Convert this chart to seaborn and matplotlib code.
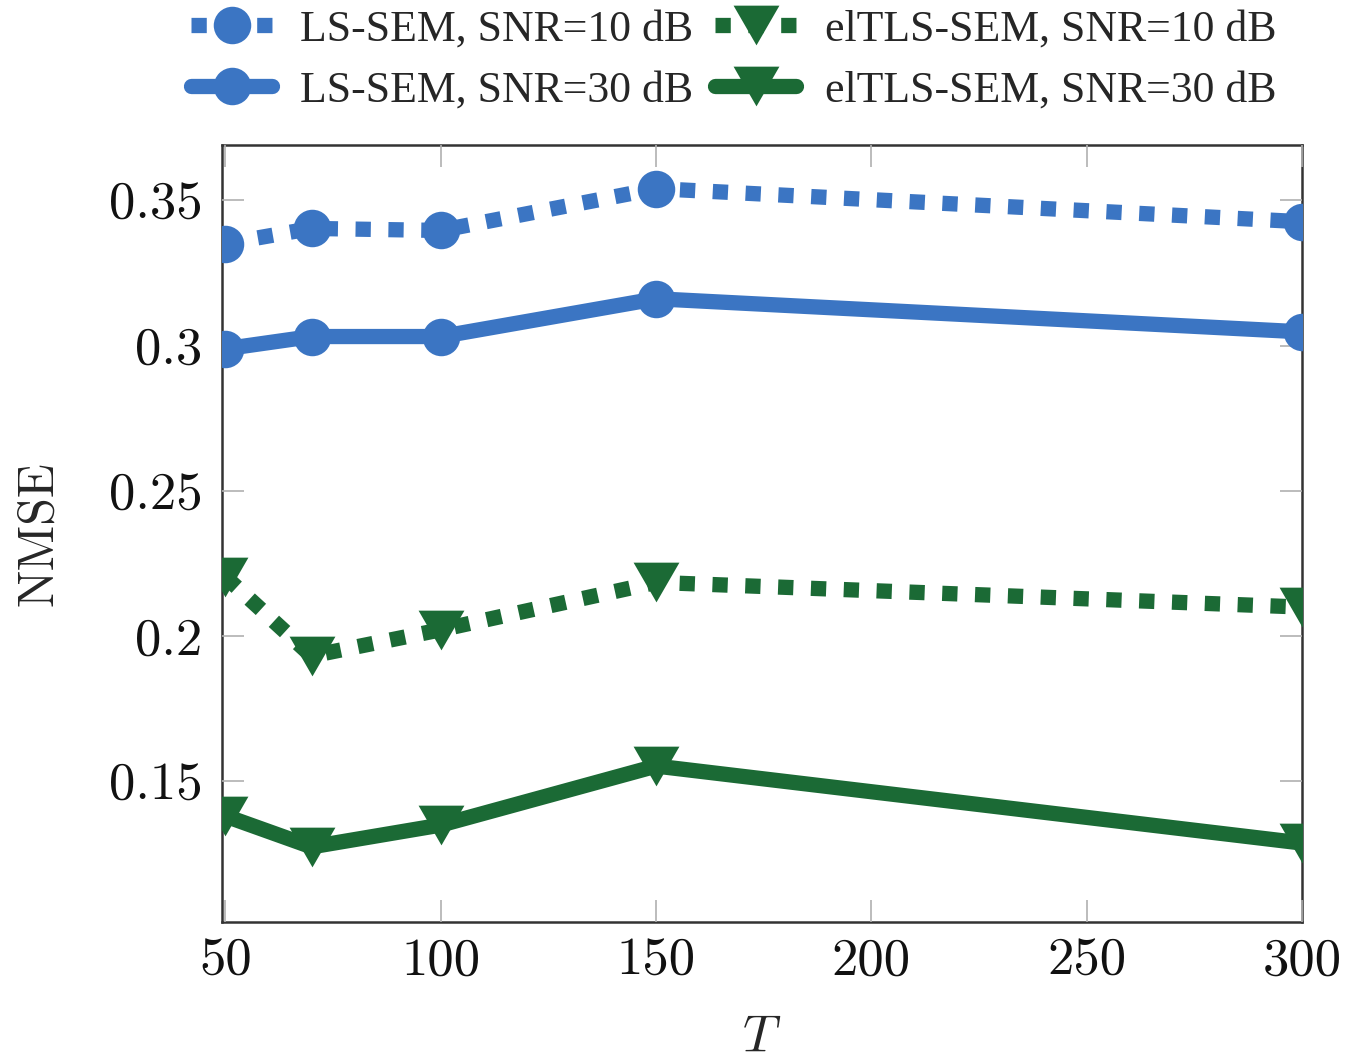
import matplotlib
matplotlib.use("Agg")
import matplotlib.pyplot as plt
import seaborn as sns
import numpy as np

T = [50, 70, 100, 150, 300]
ls_sem_10 = [0.3351, 0.3403, 0.3396, 0.3540, 0.3426]
ls_sem_30 = [0.2989, 0.3031, 0.3031, 0.3161, 0.3047]
eltls_10 = [0.2204, 0.1932, 0.2022, 0.2185, 0.2100]
eltls_30 = [0.1381, 0.1275, 0.1350, 0.1553, 0.1288]

labels = ["LS-SEM, SNR=10 dB", "LS-SEM, SNR=30 dB",
          "elTLS-SEM, SNR=10 dB", "elTLS-SEM, SNR=30 dB"]
xticks = [50, 100, 150, 200, 250, 300]
yticks = [0.15, 0.2, 0.25, 0.3, 0.35]
ytick_labels = ["0.15", "0.2", "0.25", "0.3", "0.35"]

sns.set_style("ticks")
plt.rcParams["font.family"] = ["cmr10", "DejaVu Serif"]
plt.rcParams["mathtext.fontset"] = "cm"
plt.rcParams["axes.unicode_minus"] = False

BLUE = "#3b75c3"
GREEN = "#1b6a35"
tri = [(-1, 0.866), (1, 0.866), (0, -0.866)]
dot = (0, (1.0, 1.15))

fig = plt.figure(figsize=(13.63, 10.64), dpi=100)
ax = fig.add_axes([0.1629, 0.1339, 0.7924, 0.7298])

common = dict(ax=ax, errorbar=None, linewidth=11, markeredgewidth=0)
sns.lineplot(x=T, y=ls_sem_10, color=BLUE, marker="o", markersize=27,
             linestyle=dot, label=labels[0], **common)
sns.lineplot(x=T, y=ls_sem_30, color=BLUE, marker="o", markersize=27,
             linestyle="-", label=labels[1], **common)
sns.lineplot(x=T, y=eltls_10, color=GREEN, marker=tri, markersize=33,
             linestyle=dot, label=labels[2], **common)
sns.lineplot(x=T, y=eltls_30, color=GREEN, marker=tri, markersize=33,
             linestyle="-", label=labels[3], **common)

ax.set_xlim(49.2, 300)
ax.set_ylim(0.1018, 0.369)
ax.set_xticks(xticks)
ax.set_xticklabels([str(v) for v in xticks])
ax.set_yticks(yticks)
ax.set_yticklabels(ytick_labels)
ax.tick_params(direction="in", length=16, width=1.2, color="#b0b0b0",
               top=True, right=True, labelsize=38, labelcolor="#111111")
ax.tick_params(axis="y", pad=14)
ax.tick_params(axis="x", pad=12)
for s in ax.spines.values():
    s.set_linewidth(1.8)
    s.set_color("#333333")
    s.set_zorder(0.5)

ax.set_xlabel("$T$", fontsize=38, labelpad=21)
ax.set_ylabel("NMSE", fontsize=36, labelpad=34)

if ax.legend_:
    ax.legend_.remove()
h, l = ax.get_legend_handles_labels()
fig.legend(h, l, ncol=2, loc="upper left", bbox_to_anchor=(0.137, 0.995),
           frameon=False, prop={"family": "Liberation Serif", "size": 31.5},
           handlelength=1.85, handletextpad=0.65, borderaxespad=0,
           columnspacing=0.5, labelspacing=0.48, borderpad=0.1, numpoints=1)

fig.savefig("out.png", dpi=100)
